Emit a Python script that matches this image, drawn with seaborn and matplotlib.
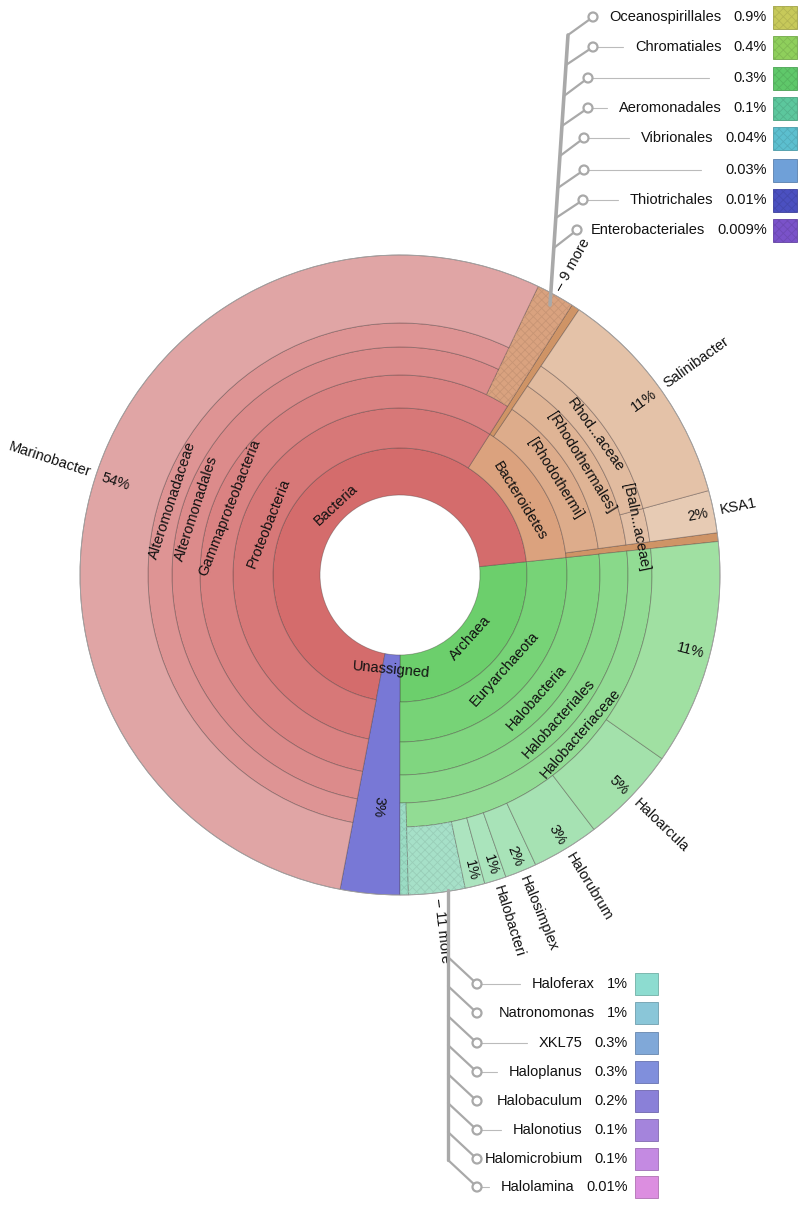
import numpy as np
import matplotlib.pyplot as plt
import matplotlib.colors as mcolors
import seaborn as sns
from matplotlib.patches import Wedge, Circle, Rectangle

# ---- data: percent of all reads, every ring listed counter-clockwise from 6 o'clock
# None = not drawn on this ring (a wedge from an inner ring reaches through it)
ring1_names = ["Archaea", "Bacteria", "Unassigned"]
ring1_values = [26.67, 70.33, 3.0]
ring2_names = ["Euryarchaeota", "Bacteroidetes", "Proteobacteria", None]
ring2_values = [26.67, 14.30, 56.03, 3.0]
ring3_names = ["Halobacteria", "", "[Rhodothermi]", "", "Gammaproteobacteria", None]
ring3_values = [26.67, 0.44, 13.44, 0.42, 56.03, 3.0]
ring4_names = ["Halobacteriales", None, "[Rhodothermales]", None, "9 more", "Alteromonadales", None]
ring4_values = [26.67, 0.44, 13.44, 0.42, 1.92, 54.11, 3.0]
ring5_names = ["", "Halobacteriaceae", None, "[Baln...aceae]", "Rhod...aceae", None, None,
               "Alteromonadaceae", None]
ring5_values = [0.42, 26.25, 0.44, 2.14, 11.30, 0.42, 1.92, 54.11, 3.0]
ring6_names = [None, "11 more", "", "Halobacteri", "Halosimplex", "Halorubrum", "Haloarcula", "",
               None, "KSA1", "Salinibacter", None, None, "Marinobacter", None]
ring6_values = [0.42, 2.85, 1.0, 1.1, 1.6, 3.4, 4.9, 11.4, 0.44, 2.14, 11.30, 0.42, 1.92, 54.11, 3.0]

top_names = ["Oceanospirillales", "Chromatiales", "", "Aeromonadales", "Vibrionales", "",
             "Thiotrichales", "Enterobacteriales"]
top_values = [0.9, 0.4, 0.3, 0.1, 0.04, 0.03, 0.01, 0.009]
bottom_names = ["Haloferax", "Natronomonas", "XKL75", "Haloplanus", "Halobaculum", "Halonotius",
                "Halomicrobium", "Halolamina"]
bottom_values = [1, 1, 0.3, 0.3, 0.2, 0.1, 0.1, 0.01]

# ---- styles
ring1_colors = ["#6ccf6c", "#d46c6c", "#7878d6"]
ring1_depth = [1, 1, 6]
ring2_colors = ["#77d377", "#dba27e", "#d77878", None]
ring2_depth = [1, 1, 1, 1]
ring3_colors = ["#80d680", "#cf9466", "#ddac8b", "#cf9466", "#da8282", None]
ring3_depth = [1, 4, 1, 4, 1, 1]
ring4_colors = ["#89d98a", None, "#dfb495", None, "#d9a27f", "#dc8b8b", None]
ring4_depth = [1, 1, 1, 1, 3, 1, 1]
ring4_hatch = [False, False, False, False, True, False, False]
ring5_colors = ["#9bdcc4", "#92dc94", None, "#e2bfa5", "#e1bb9f", None, None, "#de9494", None]
ring5_depth = [2, 1, 1, 1, 1, 1, 1, 1, 1]
ring5_hatch = [True] + [False] * 8
ring6_colors = [None, "#a6e0c8", "#ace4bf", "#aae4bc", "#a8e3b8", "#a6e2b3", "#a3e1ab", "#a0e0a2",
                None, "#e7cbb4", "#e4c2a8", None, None, "#e0a5a5", None]
ring6_depth = [1] * 15
ring6_hatch = [False, True] + [False] * 13

top_colors = ["#c7c95a", "#8fcf5c", "#5fc86a", "#5cc79d", "#5cbfcf", "#6fa0d8", "#4b50c0", "#7a52c9"]
top_hatch = [True, True, True, True, True, False, True, True]
bottom_colors = ["#8ddcd0", "#8ac6d8", "#80a8d8", "#808fdc", "#8a80d8", "#a484dc", "#c48ae2", "#dc8ee0"]

sns.set_theme(style="white")
plt.rcParams['font.family'] = ['Liberation Sans', 'DejaVu Sans']
plt.rcParams['hatch.linewidth'] = 0.6

fig = plt.figure(figsize=(8, 12.06), dpi=100)
ax = fig.add_axes([0, 0, 1, 1])
ax.set_xlim(0, 800)
ax.set_ylim(0, 1206)
ax.axis('off')

H = 1206
cx, cy = 400, H - 575
radii = [80, 127, 167, 200, 228, 252, 320]
label_r = [95, 141, 183, 214, 240]
FS = 10.5
EDGE = (0.25, 0.2, 0.2, 0.4)


def pt(r, a):
    return cx + r * np.cos(np.radians(a)), cy + r * np.sin(np.radians(a))


def tangential(text, r, a):
    rot = a - 90 if np.sin(np.radians(a)) > 0 else a + 90
    x, y = pt(r, a)
    ax.text(x, y, text, rotation=rot, rotation_mode='anchor', ha='center', va='center',
            fontsize=FS, color='#111111', zorder=5)


def radial(text, r, a, outward, center=False):
    left = np.cos(np.radians(a)) < -0.2
    rot = a - 180 if left else a
    if center:
        ha = 'center'
    elif outward:
        ha = 'right' if left else 'left'
    else:
        ha = 'left' if left else 'right'
    x, y = pt(r, a)
    ax.text(x, y, text, rotation=rot, rotation_mode='anchor', ha=ha, va='center',
            fontsize=FS, color='#111111', zorder=5)


def darker(c, f=0.86):
    rgb = np.array(mcolors.to_rgb(c)) * f
    return tuple(rgb)


rings = [
    (ring1_names, ring1_values, ring1_colors, ring1_depth, [False] * 3),
    (ring2_names, ring2_values, ring2_colors, ring2_depth, [False] * 4),
    (ring3_names, ring3_values, ring3_colors, ring3_depth, [False] * 6),
    (ring4_names, ring4_values, ring4_colors, ring4_depth, ring4_hatch),
    (ring5_names, ring5_values, ring5_colors, ring5_depth, ring5_hatch),
    (ring6_names, ring6_values, ring6_colors, ring6_depth, ring6_hatch),
]

for i, (names, values, colors, depth, hatch) in enumerate(rings):
    start = -90.0
    for name, v, c, d, h in zip(names, values, colors, depth, hatch):
        a1, a2 = start, start + 3.6 * v
        start = a2
        if c is None:
            continue
        r_in, r_out = radii[i], radii[i + d]
        ax.add_patch(Wedge((cx, cy), r_out, a1, a2, width=r_out - r_in, facecolor=c,
                           edgecolor=EDGE, lw=0.6, zorder=2))
        if h:
            ax.add_patch(Wedge((cx, cy), r_out, a1, a2, width=r_out - r_in, facecolor='none',
                               edgecolor=darker(c, 0.92), lw=0, hatch='xxxx', zorder=3))
        mid = (a1 + a2) / 2
        strip = c == "#cf9466"
        if r_out == radii[-1] and i > 0:
            if name:
                radial(("– " + name) if h else name, 326, mid, True)
            if not h and not strip and v >= 0.95:
                radial(f"{v:.0f}%", 314, mid, False)
        elif r_out == radii[-1]:
            tangential(name, label_r[0], mid)
            radial(f"{v:.0f}%", 233, mid, False, center=True)
        elif name:
            tangential(name, label_r[i], mid)

ax.add_patch(Circle((cx, cy), radii[-1], facecolor='none', edgecolor='#a0a0a0', lw=0.6, zorder=4))

# ---- legend trees
GRAY = '#a9a9a9'
renderer = fig.canvas.get_renderer()
inv = ax.transData.inverted()


def text_left(t):
    bb = t.get_window_extent(renderer)
    return inv.transform((bb.x0, bb.y0))[0]


def legend_tree(names, values, colors, hatch, rows, circ_x, trunk_x, branch_dy, pct_right,
                sw_x, sw_w, sw_h):
    for k, (nm, v, col) in enumerate(zip(names, values, colors)):
        y = H - rows[k]
        bx = trunk_x(rows[k] + branch_dy)
        ax.plot([bx, circ_x[k]], [H - rows[k] - branch_dy, y], color=GRAY, lw=1.6,
                solid_capstyle='round', zorder=6)
        tp = ax.text(pct_right, y, f"{v:g}%", ha='right', va='center', fontsize=FS,
                     color='#111111', zorder=7)
        pl = text_left(tp)
        if nm:
            tn = ax.text(pl - 12, y, nm, ha='right', va='center', fontsize=FS,
                         color='#111111', zorder=7)
            end = text_left(tn) - 12
        else:
            end = pl - 25
        if end - circ_x[k] > 10:
            ax.plot([circ_x[k], end], [y, y], color='#bbbbbb', lw=0.8, zorder=5)
        ax.add_patch(Circle((circ_x[k], y), 4.5, facecolor='white', edgecolor=GRAY, lw=1.6,
                            zorder=8))
        ax.add_patch(Rectangle((sw_x, y - sw_h / 2), sw_w, sw_h, facecolor=col,
                               edgecolor=darker(col, 0.8), lw=0.6, zorder=6))
        if hatch[k]:
            ax.add_patch(Rectangle((sw_x, y - sw_h / 2), sw_w, sw_h, facecolor='none',
                                   edgecolor=darker(col, 0.9), lw=0, hatch='xxxx', zorder=7))


top_rows = [17, 47, 78, 108, 138, 170, 200, 230]
top_circ = [593, 593, 588, 588, 584, 584, 583, 577]


def top_trunk(img_y):
    return 550 + (305 - img_y) * 18 / 270


ax.plot([550, 568], [H - 305, H - 35], color=GRAY, lw=2.6, solid_capstyle='round', zorder=6)
legend_tree(top_names, top_values, top_colors, top_hatch, top_rows, top_circ, top_trunk, 18,
            767, 773, 24, 23)

bottom_rows = [984, 1013, 1043, 1072, 1101, 1130, 1159, 1187]
ax.plot([448, 448], [H - 890, H - 1160], color=GRAY, lw=2.4, solid_capstyle='round', zorder=6)
legend_tree(bottom_names, bottom_values, bottom_colors, [False] * 8, bottom_rows, [477] * 8,
            lambda y: 448, -27, 628, 635, 23, 22)

fig.savefig("out.png", dpi=100, facecolor='white')
